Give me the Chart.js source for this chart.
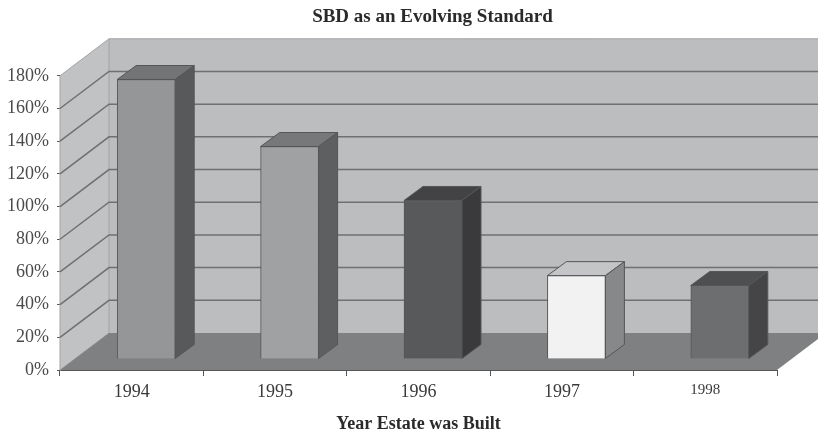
<!DOCTYPE html>
<html>
<head>
<meta charset="utf-8">
<title>SBD as an Evolving Standard</title>
<script src="https://cdn.jsdelivr.net/npm/chart.js@4"></script>
<style>
  html, body { margin: 0; padding: 0; background: #fff; }
  #wrap { width: 818px; height: 433px; }
</style>
</head>
<body>
<div id="wrap"><canvas id="chart"></canvas></div>
<script>
// data
const years = ['1994', '1995', '1996', '1997', '1998'];
const sbdPercent = [171, 130, 97, 51, 45];
const yTickStep = 20;
const yMax = 180;

// bar colours: front, top, side
const faceColors = ['#959698', '#a0a1a3', '#58595b', '#f2f2f2', '#6d6e70'];
const topColors = ['#737476', '#77787a', '#434345', '#c4c5c7', '#4e4f51'];
const sideColors = ['#58595b', '#5e5f61', '#3a3a3c', '#87888a', '#454547'];

const serif = '"Liberation Serif", serif';
const wallDx = 49, wallDy = -37;   // depth of the box
const barDx = 19, barDy = -14;     // depth of one bar
const barShiftX = 14.5, barShiftY = -11; // bars stand a bit inside the floor

function poly(ctx, pts, fill, stroke) {
    ctx.beginPath();
    pts.forEach((p, i) => i ? ctx.lineTo(p[0], p[1]) : ctx.moveTo(p[0], p[1]));
    ctx.closePath();
    ctx.fillStyle = fill;
    ctx.fill();
    if (stroke) {
        ctx.strokeStyle = stroke;
        ctx.lineWidth = 1;
        ctx.stroke();
    }
}

const box3d = {
    id: 'box3d',
    afterLayout(chart) {
        // title sits right of the plot centre in the original
        chart.titleBlock.left += 88;
    },
    beforeDatasetsDraw(chart) {
        const ctx = chart.ctx;
        const a = chart.chartArea;
        const y = chart.scales.y;
        ctx.save();

        // back wall, side wall, floor
        poly(ctx, [[a.left + wallDx, a.top + wallDy], [a.right + wallDx, a.top + wallDy],
            [a.right + wallDx, a.bottom + wallDy], [a.left + wallDx, a.bottom + wallDy]], '#bcbdbf');
        poly(ctx, [[a.left, a.top], [a.left + wallDx, a.top + wallDy],
            [a.left + wallDx, a.bottom + wallDy], [a.left, a.bottom]], '#c1c2c4', '#a3a4a6');
        poly(ctx, [[a.left, a.bottom], [a.right, a.bottom],
            [a.right + wallDx, a.bottom + wallDy], [a.left + wallDx, a.bottom + wallDy]], '#7f8082');

        // grid lines along side wall and back wall
        ctx.strokeStyle = '#6e7072';
        ctx.lineWidth = 1.5;
        for (let v = yTickStep; v < yMax; v += yTickStep) {
            const py = y.getPixelForValue(v);
            ctx.beginPath();
            ctx.moveTo(a.left, py);
            ctx.lineTo(a.left + wallDx, py + wallDy);
            ctx.lineTo(a.right + wallDx, py + wallDy);
            ctx.stroke();
        }
        ctx.strokeStyle = '#a3a4a6';
        ctx.lineWidth = 1;
        ctx.beginPath();
        ctx.moveTo(a.left + wallDx, a.top + wallDy);
        ctx.lineTo(a.right + wallDx, a.top + wallDy);
        ctx.stroke();

        // move the bars in, then add their top and side
        ctx.translate(barShiftX, barShiftY);
        chart.getDatasetMeta(0).data.forEach((bar, i) => {
            const l = bar.x - bar.width / 2;
            const r = bar.x + bar.width / 2;
            poly(ctx, [[l, bar.y], [r, bar.y], [r + barDx, bar.y + barDy], [l + barDx, bar.y + barDy]],
                topColors[i], '#555658');
            poly(ctx, [[r, bar.y], [r + barDx, bar.y + barDy], [r + barDx, bar.base + barDy], [r, bar.base]],
                sideColors[i], '#555658');
        });
    },
    afterDatasetsDraw(chart) {
        chart.ctx.restore();
    }
};

new Chart(document.getElementById('chart'), {
    type: 'bar',
    data: {
        labels: years,
        datasets: [{
            data: sbdPercent,
            backgroundColor: faceColors,
            borderColor: '#555658',
            borderWidth: 1,
            barThickness: 58
        }]
    },
    options: {
        responsive: true,
        maintainAspectRatio: false,
        animation: false,
        layout: { padding: { right: 41 } },
        plugins: {
            legend: { display: false },
            tooltip: { enabled: false },
            title: {
                display: true,
                text: 'SBD as an Evolving Standard',
                color: '#2a2a2a',
                font: { family: serif, size: 19, weight: 'bold' },
                padding: { top: 6, bottom: 47 }
            }
        },
        scales: {
            x: {
                afterFit(scale) { scale.height = 63; },
                grid: { drawOnChartArea: false, offset: true, color: '#555658', tickLength: 6, tickColor: '#555658' },
                border: { color: '#555658' },
                ticks: {
                    color: '#3a3a3a',
                    padding: 5,
                    maxRotation: 0,
                    font: ctx => ({ family: serif, size: ctx.index === 4 ? 15 : 18 })
                },
                title: {
                    display: true,
                    text: 'Year Estate was Built',
                    color: '#2a2a2a',
                    font: { family: serif, size: 18, weight: 'bold' },
                    padding: { top: 4, bottom: -2 }
                }
            },
            y: {
                min: 0,
                max: yMax,
                afterFit(scale) { scale.width = 60; },
                grid: { drawOnChartArea: false, color: '#555658', tickLength: 3, tickColor: '#555658' },
                border: { color: '#8a8b8d' },
                ticks: {
                    stepSize: yTickStep,
                    color: '#4a4a4a',
                    padding: 8,
                    font: { family: serif, size: 18 },
                    callback: v => v + '%'
                }
            }
        }
    },
    plugins: [box3d]
});
</script>
</body>
</html>
